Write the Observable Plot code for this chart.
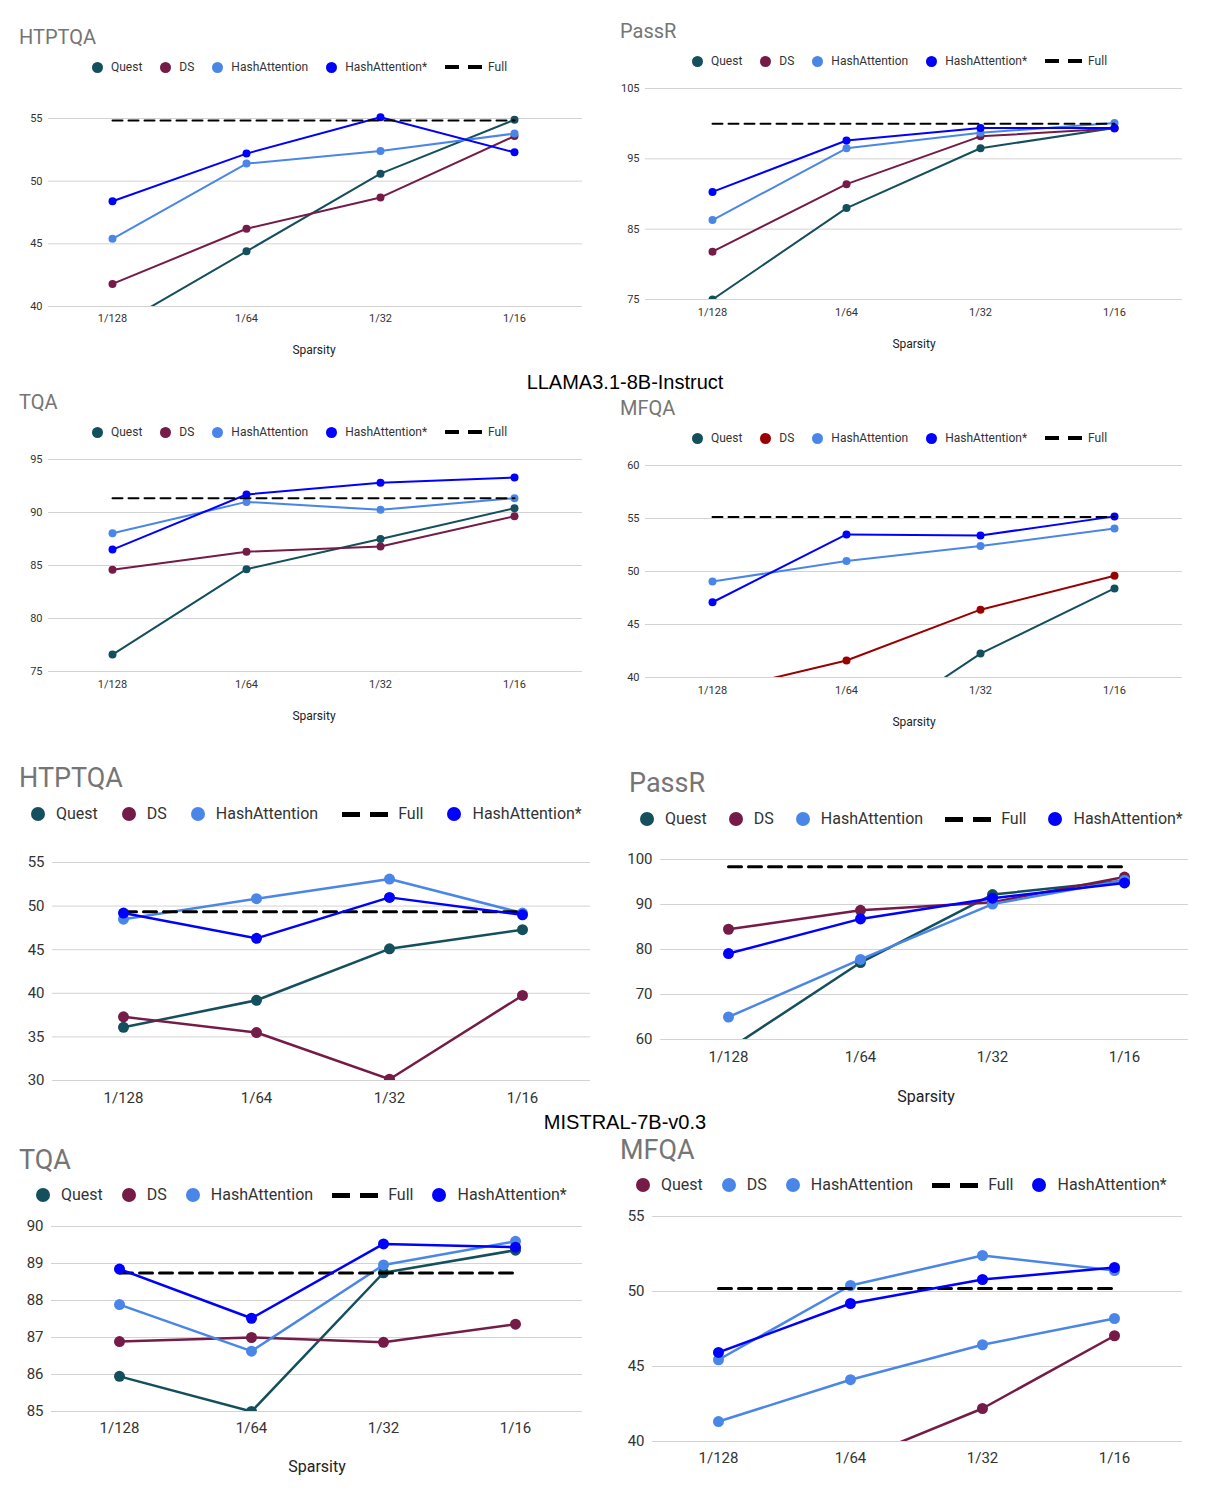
<!DOCTYPE html>
<html><head><meta charset="utf-8">
<script src="https://cdn.jsdelivr.net/npm/d3@7"></script>
<script src="https://cdn.jsdelivr.net/npm/@observablehq/plot@0.6"></script>
<style>
body{margin:0;background:#fff;}
#root{position:relative;width:1209px;height:1496px;overflow:hidden;font-family:Roboto, sans-serif;background:#fff;}
</style></head><body><div id="root"></div>
<script>
// ---------- data ----------
const sparsity = ["1/128", "1/64", "1/32", "1/16"];

// LLAMA3.1-8B-Instruct
const llamaHtptqaQuest    = [38.2, 44.4, 50.6, 54.9];
const llamaHtptqaDS       = [41.8, 46.2, 48.7, 53.6];
const llamaHtptqaHash     = [45.4, 51.4, 52.4, 53.8];
const llamaHtptqaHashStar = [48.4, 52.2, 55.1, 52.3];
const llamaHtptqaFull     = 54.85;

const llamaPassrQuest    = [75.0, 88.0, 96.5, 99.4];
const llamaPassrDS       = [81.8, 91.4, 98.2, 99.3];
const llamaPassrHash     = [86.3, 96.5, 98.7, 100.1];
const llamaPassrHashStar = [90.3, 97.6, 99.4, 99.4];
const llamaPassrFull     = 100.0;

const llamaTqaQuest    = [76.6, 84.65, 87.5, 90.4];
const llamaTqaDS       = [84.6, 86.3, 86.8, 89.65];
const llamaTqaHash     = [88.05, 91.0, 90.25, 91.35];
const llamaTqaHashStar = [86.5, 91.7, 92.8, 93.3];
const llamaTqaFull     = 91.35;

const llamaMfqaQuest    = [30.0, 33.8, 42.26, 48.4];
const llamaMfqaDS       = [38.6, 41.6, 46.4, 49.6];
const llamaMfqaHash     = [49.05, 51.0, 52.4, 54.05];
const llamaMfqaHashStar = [47.1, 53.5, 53.4, 55.2];
const llamaMfqaFull     = 55.15;

// MISTRAL-7B-v0.3
const mistralHtptqaQuest    = [36.1, 39.2, 45.1, 47.3];
const mistralHtptqaDS       = [37.3, 35.5, 30.15, 39.75];
const mistralHtptqaHash     = [48.5, 50.85, 53.1, 49.2];
const mistralHtptqaHashStar = [49.2, 46.3, 51.0, 49.0];
const mistralHtptqaFull     = 49.35;

const mistralPassrQuest    = [57.8, 77.1, 92.2, 95.3];
const mistralPassrDS       = [84.5, 88.7, 90.5, 96.1];
const mistralPassrHash     = [65.0, 77.8, 90.1, 95.4];
const mistralPassrHashStar = [79.1, 86.8, 91.4, 94.8];
const mistralPassrFull     = 98.4;

const mistralTqaQuest    = [85.95, 85.0, 88.75, 89.36];
const mistralTqaDS       = [86.89, 87.0, 86.87, 87.36];
const mistralTqaHash     = [87.89, 86.63, 88.96, 89.6];
const mistralTqaHashStar = [88.85, 87.52, 89.53, 89.44];
const mistralTqaFull     = 88.74;

const mistralMfqaQuest    = [36.0, 38.6, 42.2, 47.05];
const mistralMfqaDS       = [41.33, 44.12, 46.45, 48.2];
const mistralMfqaHash     = [45.45, 50.4, 52.4, 51.4];
const mistralMfqaHashStar = [45.94, 49.2, 50.8, 51.6];
const mistralMfqaFull     = 50.2;

// ---------- styles ----------
const C_QUEST = "#134f5c", C_DS = "#741b47", C_DS_RED = "#990000", C_HASH = "#4a86e8", C_STAR = "#0000ff";
const SMALL = {title:20, legend:12, tick:11, spars:12, lw:2, r:4, ldot:11, dashW:14, dashH:4, dashGap:9, itemGap:18, dotGap:8, fullTextGap:6, dash:"10,6", fullW:2, yPad:6};
const BIG   = {title:27, legend:16, tick:15, spars:16, lw:2.5, r:5.5, ldot:14, dashW:18, dashH:5, dashGap:10, itemGap:20, dotGap:11, fullTextGap:10, dash:"13,7", fullW:3, yPad:8};

const root = document.getElementById("root");

function S_(name, values, color){ return {type:"s", name, values, color}; }
function F_(value){ return {type:"full", name:"Full", value}; }

const panels = [
  {left:0, width:600, gridX0:48, gridX1:582, xa:112, xb:514, yTop:118, yBot:306, ticks:[40,45,50,55], xLabelY:318,
   title:"HTPTQA", titleX:19, titleY:37, legendX:92, legendY:67, big:false, spars:[314,350],
   items:[S_("Quest",llamaHtptqaQuest,C_QUEST), S_("DS",llamaHtptqaDS,C_DS), S_("HashAttention",llamaHtptqaHash,C_HASH), S_("HashAttention*",llamaHtptqaHashStar,C_STAR), F_(llamaHtptqaFull)]},
  {left:600, width:609, gridX0:645, gridX1:1182, xa:712, xb:1114, yTop:88, yBot:299, ticks:[75,85,95,105], xLabelY:312,
   title:"PassR", titleX:620, titleY:31, legendX:692, legendY:61, big:false, spars:[914,344],
   items:[S_("Quest",llamaPassrQuest,C_QUEST), S_("DS",llamaPassrDS,C_DS), S_("HashAttention",llamaPassrHash,C_HASH), S_("HashAttention*",llamaPassrHashStar,C_STAR), F_(llamaPassrFull)]},
  {left:0, width:600, gridX0:48, gridX1:582, xa:112, xb:514, yTop:459, yBot:671, ticks:[75,80,85,90,95], xLabelY:684,
   title:"TQA", titleX:19, titleY:402, legendX:92, legendY:432, big:false, spars:[314,716],
   items:[S_("Quest",llamaTqaQuest,C_QUEST), S_("DS",llamaTqaDS,C_DS), S_("HashAttention",llamaTqaHash,C_HASH), S_("HashAttention*",llamaTqaHashStar,C_STAR), F_(llamaTqaFull)]},
  {left:600, width:609, gridX0:645, gridX1:1182, xa:712, xb:1114, yTop:465, yBot:677, ticks:[40,45,50,55,60], xLabelY:690,
   title:"MFQA", titleX:620, titleY:408, legendX:692, legendY:438, big:false, spars:[914,722],
   items:[S_("Quest",llamaMfqaQuest,C_QUEST), S_("DS",llamaMfqaDS,C_DS_RED), S_("HashAttention",llamaMfqaHash,C_HASH), S_("HashAttention*",llamaMfqaHashStar,C_STAR), F_(llamaMfqaFull)]},
  {left:0, width:600, gridX0:52, gridX1:590, xa:122, xb:523, yTop:862, yBot:1080, ticks:[30,35,40,45,50,55], xLabelY:1097,
   title:"HTPTQA", titleX:19, titleY:778, legendX:31, legendY:814, big:true, spars:null, itemGap:24,
   items:[S_("Quest",mistralHtptqaQuest,C_QUEST), S_("DS",mistralHtptqaDS,C_DS), S_("HashAttention",mistralHtptqaHash,C_HASH), F_(mistralHtptqaFull), S_("HashAttention*",mistralHtptqaHashStar,C_STAR)]},
  {left:600, width:609, gridX0:660, gridX1:1188, xa:728, xb:1124, yTop:859, yBot:1039, ticks:[60,70,80,90,100], xLabelY:1056,
   title:"PassR", titleX:629, titleY:783, legendX:640, legendY:819, big:true, spars:[926,1097], itemGap:22,
   items:[S_("Quest",mistralPassrQuest,C_QUEST), S_("DS",mistralPassrDS,C_DS), S_("HashAttention",mistralPassrHash,C_HASH), F_(mistralPassrFull), S_("HashAttention*",mistralPassrHashStar,C_STAR)]},
  {left:0, width:600, gridX0:51, gridX1:582, xa:119, xb:515, yTop:1226, yBot:1411, ticks:[85,86,87,88,89,90], xLabelY:1427,
   title:"TQA", titleX:19, titleY:1160, legendX:36, legendY:1195, big:true, spars:[317,1467], itemGap:19,
   items:[S_("Quest",mistralTqaQuest,C_QUEST), S_("DS",mistralTqaDS,C_DS), S_("HashAttention",mistralTqaHash,C_HASH), F_(mistralTqaFull), S_("HashAttention*",mistralTqaHashStar,C_STAR)]},
  {left:600, width:609, gridX0:652, gridX1:1182, xa:718, xb:1114, yTop:1216, yBot:1441, ticks:[40,45,50,55], xLabelY:1457,
   title:"MFQA", titleX:620, titleY:1150, legendX:636, legendY:1185, big:true, spars:null, itemGap:19,
   items:[S_("Quest",mistralMfqaQuest,C_DS), S_("DS",mistralMfqaDS,C_HASH), S_("HashAttention",mistralMfqaHash,C_HASH), F_(mistralMfqaFull), S_("HashAttention*",mistralMfqaHashStar,C_STAR)]}
];

function addText(txt, x, y, size, color, anchor, font) {
  const el = document.createElement("div");
  el.textContent = txt;
  el.style.cssText = `position:absolute;white-space:nowrap;left:${x}px;top:${y}px;font-size:${size}px;color:${color};font-family:${font || "Roboto, sans-serif"};line-height:1;transform:translate(${anchor === "middle" ? "-50%" : "0"},-50%);`;
  root.appendChild(el);
}

function drawLegend(p) {
  const S = p.big ? BIG : SMALL;
  const gap = p.itemGap != null ? p.itemGap : S.itemGap;
  const lg = document.createElement("div");
  lg.style.cssText = `position:absolute;left:${p.legendX}px;top:${p.legendY}px;transform:translateY(-50%);display:flex;align-items:center;white-space:nowrap;font-size:${S.legend}px;color:#333;font-family:Roboto, sans-serif;line-height:1;`;
  p.items.forEach(item => {
    const it = document.createElement("div");
    it.style.cssText = `display:flex;align-items:center;margin-right:${gap}px;`;
    if (item.type === "full") {
      for (let k = 0; k < 2; k++) {
        const d = document.createElement("span");
        d.style.cssText = `display:inline-block;width:${S.dashW}px;height:${S.dashH}px;background:#000;margin-right:${k === 0 ? S.dashGap : S.fullTextGap}px;`;
        it.appendChild(d);
      }
    } else {
      const d = document.createElement("span");
      d.style.cssText = `display:inline-block;width:${S.ldot}px;height:${S.ldot}px;border-radius:50%;background:${item.color};margin-right:${S.dotGap}px;`;
      it.appendChild(d);
    }
    const t = document.createElement("span");
    t.textContent = item.name;
    it.appendChild(t);
    lg.appendChild(it);
  });
  root.appendChild(lg);
}

function drawPanel(p) {
  const S = p.big ? BIG : SMALL;
  const svgTop = p.yTop - 10;
  const marginBottom = 40;
  const height = p.yBot - svgTop + marginBottom;
  const t0 = p.ticks[0], t1 = p.ticks[p.ticks.length - 1];
  const ppu = (p.yBot - p.yTop) / (t1 - t0);
  const yDomain = [t0, t1 + 8 / ppu];
  const marks = [
    Plot.gridY({ticks: p.ticks, stroke: "#d3d3d3", strokeOpacity: 1, strokeWidth: 1}),
    Plot.axisY({ticks: p.ticks, tickSize: 0, tickPadding: S.yPad, fontSize: S.tick, tickFormat: d3.format("d"), label: null}),
    Plot.axisX({tickSize: 0, tickPadding: p.xLabelY - p.yBot - 0.355 * S.tick, fontSize: S.tick, label: null})
  ];
  p.items.forEach(item => {
    if (item.type === "full") {
      const data = sparsity.map(s => ({s, v: item.value}));
      marks.push(Plot.line(data, {x: "s", y: "v", stroke: "#000", strokeWidth: S.fullW, strokeDasharray: S.dash}));
    } else {
      const data = sparsity.map((s, i) => ({s, v: item.values[i]}));
      marks.push(Plot.line(data, {x: "s", y: "v", stroke: item.color, strokeWidth: S.lw, clip: true}));
      marks.push(Plot.dot(data, {x: "s", y: "v", fill: item.color, r: S.r, clip: true}));
    }
  });
  const chart = Plot.plot({
    width: p.width, height,
    marginTop: 2, marginBottom,
    marginLeft: p.gridX0 - p.left, marginRight: p.left + p.width - p.gridX1,
    x: {type: "point", domain: sparsity, range: [p.xa - p.left, p.xb - p.left], padding: 0, label: null},
    y: {domain: yDomain, label: null},
    style: {fontFamily: "Roboto, sans-serif", color: "#333", background: "transparent", overflow: "visible"},
    marks
  });
  chart.style.position = "absolute";
  chart.style.left = p.left + "px";
  chart.style.top = svgTop + "px";
  root.appendChild(chart);

  addText(p.title, p.titleX, p.titleY, S.title, "#757575", "start");
  drawLegend(p);
  if (p.spars) addText("Sparsity", p.spars[0], p.spars[1], S.spars, "#222", "middle");
}

panels.forEach(drawPanel);
addText("LLAMA3.1-8B-Instruct", 625, 382, 20, "#000", "middle", "'Liberation Sans', Arial, sans-serif");
addText("MISTRAL-7B-v0.3", 625, 1122, 20, "#000", "middle", "'Liberation Sans', Arial, sans-serif");
</script></body></html>
